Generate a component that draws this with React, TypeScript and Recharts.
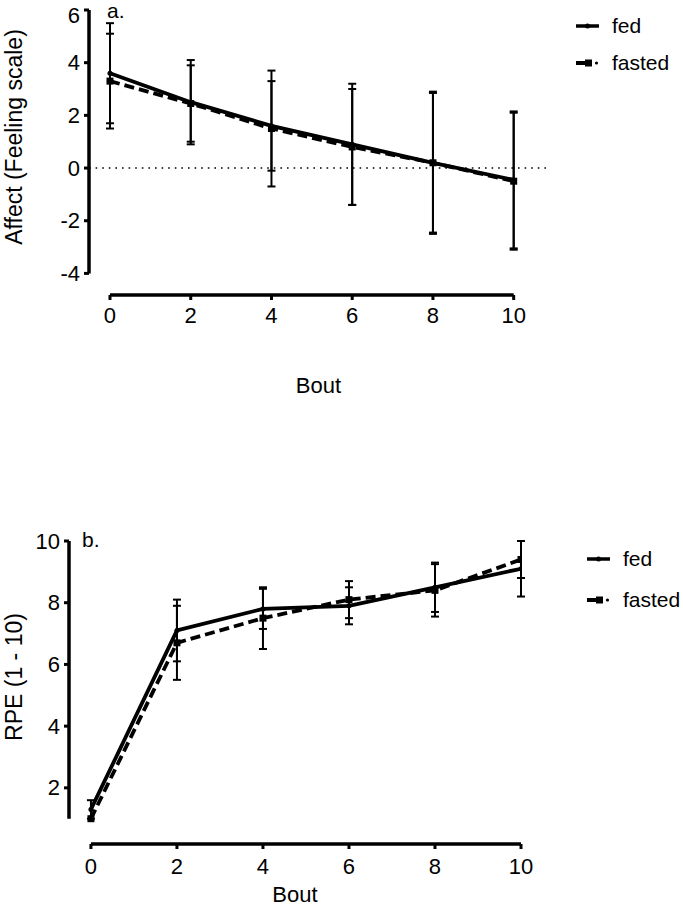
import React from 'react';
import { LineChart, Line, XAxis, YAxis, ErrorBar, ReferenceLine, Legend } from 'recharts';

// bouts measured
const bouts = [0, 2, 4, 6, 8, 10];

// panel a: affect (feeling scale), mean and SD
const affectFed = [3.6, 2.5, 1.6, 0.9, 0.2, -0.45];
const affectFedSd = [1.9, 1.6, 1.7, 2.3, 2.65, 2.6];
const affectFasted = [3.3, 2.45, 1.5, 0.8, 0.2, -0.5];
const affectFastedSd = [1.8, 1.45, 2.2, 2.2, 2.7, 2.6];
const affectTicks = [-4, -2, 0, 2, 4, 6];

// panel b: RPE, mean and SD
const rpeFed = [1.3, 7.1, 7.8, 7.9, 8.5, 9.1];
const rpeFedSd = [0.3, 1.0, 0.65, 0.6, 0.8, 0.9];
const rpeFasted = [1.0, 6.7, 7.5, 8.1, 8.4, 9.4];
const rpeFastedSd = [0, 1.2, 1.0, 0.6, 0.85, 0.6];
const rpeTicks = [2, 4, 6, 8, 10];

const boutTicks = [0, 2, 4, 6, 8, 10];
const legendOrder = ['fed', 'fasted'];

const buildRows = (fed: number[], fedSd: number[], fasted: number[], fastedSd: number[]) =>
  bouts.map((b, i) => ({ bout: b, fed: fed[i], fedSd: fedSd[i], fasted: fasted[i], fastedSd: fastedSd[i] }));

const affectRows = buildRows(affectFed, affectFedSd, affectFasted, affectFastedSd);
const rpeRows = buildRows(rpeFed, rpeFedSd, rpeFasted, rpeFastedSd);

const FONT = '"Liberation Sans", Arial, Helvetica, sans-serif';
const tickStyle = { fill: '#000', fontSize: 22, fontFamily: FONT };
const tickLineStyle = { stroke: '#000', strokeWidth: 3 };

// y tick that keeps its label inside the picture at the top (as the original does)
const YTick = (p: any) => {
  const y = Math.max(p.y, 15);
  return (
    <text x={p.x} y={y} textAnchor="end" dominantBaseline="central" fill="#000" fontSize={22} fontFamily={FONT}>
      {p.payload.value}
    </text>
  );
};

const SquareDot = (p: any) => {
  if (p.cx == null || p.cy == null) return null;
  return <rect key={`sq-${p.index}`} x={p.cx - 3.5} y={p.cy - 3.5} width={7} height={7} fill="#000" />;
};

const makeLegend = (rowH: number) => (props: any) => {
  const payload = [...(props.payload || [])].sort(
    (a: any, b: any) => legendOrder.indexOf(a.dataKey) - legendOrder.indexOf(b.dataKey)
  );
  return (
    <div style={{ fontSize: 21, color: '#000', fontFamily: FONT }}>
      {payload.map((entry: any) => (
        <div key={entry.value} style={{ display: 'flex', alignItems: 'center', height: rowH }}>
          <svg width={23} height={12} style={{ overflow: 'visible' }}>
            {entry.dataKey === 'fasted' ? (
              <g>
                <line x1={0} y1={6} x2={14} y2={6} stroke="#000" strokeWidth={4} />
                <rect x={9} y={2.5} width={7} height={7} fill="#000" />
                <circle cx={20.5} cy={6} r={1.6} fill="#000" />
              </g>
            ) : (
              <g>
                <line x1={0} y1={6} x2={23} y2={6} stroke="#000" strokeWidth={3.5} />
                <circle cx={11.5} cy={6} r={2.5} fill="#000" />
              </g>
            )}
          </svg>
          <span style={{ marginLeft: 13 }}>{entry.value}</span>
        </div>
      ))}
    </div>
  );
};

// rotated y title + panel letter, placed from the y axis box
const axisTitle = (title: string, panel: string, panelDx: number, panelDy: number) => (props: any) => {
  const vb = props.viewBox || { x: 0, y: 0, width: 0, height: 0 };
  const cy = vb.y + vb.height / 2 - 15.5;
  const axisX = vb.x + vb.width;
  return (
    <g>
      <text x={14} y={cy} transform={`rotate(-90 14 ${cy})`} textAnchor="middle" dominantBaseline="central"
        fontSize={23} fill="#000" fontFamily={FONT}>{title}</text>
      <text x={axisX + panelDx} y={vb.y + panelDy} fontSize={21} fill="#000" fontFamily={FONT}>{panel}</text>
    </g>
  );
};

const AFFECT_X: [number, number] = [-0.52, 10.85];
const AFFECT_Y: [number, number] = [-4.82, 6];
const RPE_X: [number, number] = [-0.51, 10];
const RPE_Y: [number, number] = [0.18, 10];

export default function App() {
  return (
    <div style={{ position: 'absolute', left: 0, top: 0, width: 683, height: 911, background: '#fff', fontFamily: FONT }}>
      <div style={{ position: 'absolute', left: 0, top: 0 }}>
        <LineChart width={683} height={420} data={affectRows} margin={{ top: 10, right: 135, bottom: 15, left: 39 }}>
          <XAxis dataKey="bout" type="number" domain={AFFECT_X} allowDataOverflow ticks={boutTicks} interval={0}
            axisLine={false} tickLine={tickLineStyle} tickSize={5} tickMargin={7} tick={tickStyle} height={110}
            label={{ value: 'Bout', position: 'insideBottom', offset: 12, fill: '#000', fontSize: 22, fontFamily: FONT }} />
          <YAxis type="number" domain={AFFECT_Y} allowDataOverflow ticks={affectTicks} interval={0} width={50}
            axisLine={false} tickLine={tickLineStyle} tickSize={5} tickMargin={4} tick={<YTick />}
            label={axisTitle('Affect (Feeling scale)', 'a.', 18, 8)} />
          <ReferenceLine y={0} stroke="#000" strokeWidth={1.6} strokeDasharray="1.6 5" />
          <ReferenceLine segment={[{ x: 0, y: AFFECT_Y[0] }, { x: 10, y: AFFECT_Y[0] }]} stroke="#000" strokeWidth={3.5} ifOverflow="visible" />
          <ReferenceLine segment={[{ x: AFFECT_X[0], y: -4 }, { x: AFFECT_X[0], y: 6 }]} stroke="#000" strokeWidth={3.5} ifOverflow="visible" />
          <Line dataKey="fed" name="fed" stroke="#000" strokeWidth={3.8} dot={{ r: 2.5, fill: '#000', stroke: 'none' }} isAnimationActive={false}>
            <ErrorBar dataKey="fedSd" width={4} stroke="#000" strokeWidth={2} direction="y" />
          </Line>
          <Line dataKey="fasted" name="fasted" stroke="#000" strokeWidth={3.8} strokeDasharray="10 5" dot={SquareDot} isAnimationActive={false}>
            <ErrorBar dataKey="fastedSd" width={4} stroke="#000" strokeWidth={2} direction="y" />
          </Line>
          <Legend layout="vertical" align="center" verticalAlign="middle" content={makeLegend(37)}
            wrapperStyle={{ left: 576, top: 7.5, width: 107 }} />
        </LineChart>
      </div>

      <div style={{ position: 'absolute', left: 0, top: 460 }}>
        <LineChart width={683} height={451} data={rpeRows} margin={{ top: 81, right: 162, bottom: 7, left: 19 }}>
          <XAxis dataKey="bout" type="number" domain={RPE_X} allowDataOverflow ticks={boutTicks} interval={0}
            axisLine={false} tickLine={tickLineStyle} tickSize={5} tickMargin={9} tick={tickStyle} height={60}
            label={{ value: 'Bout', position: 'insideBottom', offset: 2.5, fill: '#000', fontSize: 22, fontFamily: FONT }} />
          <YAxis type="number" domain={RPE_Y} allowDataOverflow ticks={rpeTicks} interval={0} width={50}
            axisLine={false} tickLine={tickLineStyle} tickSize={5} tickMargin={4} tick={<YTick />}
            label={axisTitle('RPE (1 - 10)', 'b.', 13, 6)} />
          <ReferenceLine segment={[{ x: 0, y: RPE_Y[0] }, { x: 10, y: RPE_Y[0] }]} stroke="#000" strokeWidth={3.5} ifOverflow="visible" />
          <ReferenceLine segment={[{ x: RPE_X[0], y: 1 }, { x: RPE_X[0], y: 10 }]} stroke="#000" strokeWidth={3.5} ifOverflow="visible" />
          <Line dataKey="fed" name="fed" stroke="#000" strokeWidth={3.8} dot={{ r: 2.5, fill: '#000', stroke: 'none' }} isAnimationActive={false}>
            <ErrorBar dataKey="fedSd" width={4} stroke="#000" strokeWidth={2} direction="y" />
          </Line>
          <Line dataKey="fasted" name="fasted" stroke="#000" strokeWidth={3.8} strokeDasharray="10 5" dot={SquareDot} isAnimationActive={false}>
            <ErrorBar dataKey="fastedSd" width={4} stroke="#000" strokeWidth={2} direction="y" />
          </Line>
          <Legend layout="vertical" align="center" verticalAlign="middle" content={makeLegend(41)}
            wrapperStyle={{ left: 587, top: 78.5, width: 96 }} />
        </LineChart>
      </div>
    </div>
  );
}
